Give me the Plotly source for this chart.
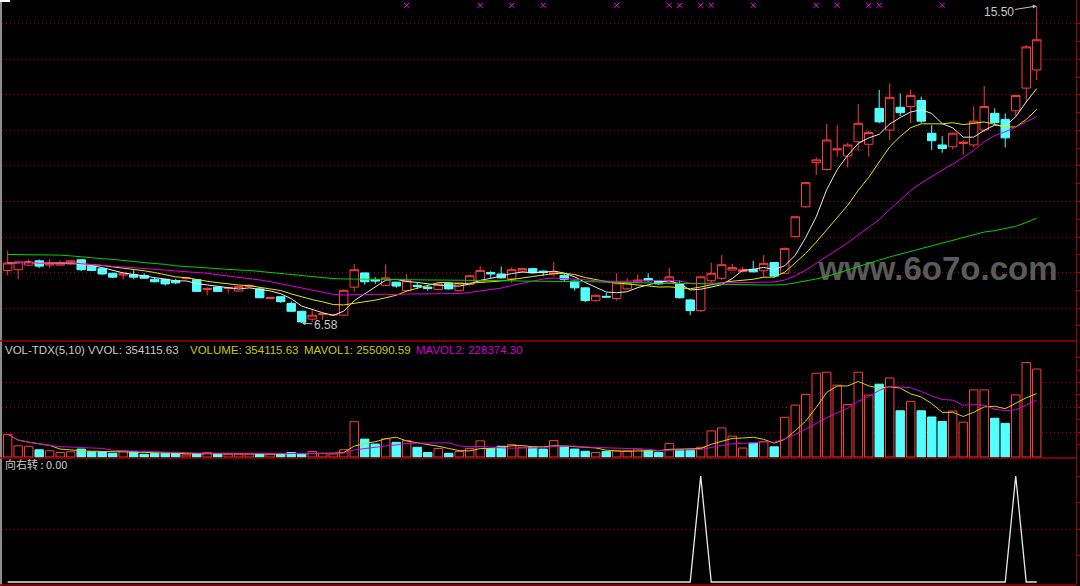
import pandas as pd
import plotly.graph_objects as go

W, H = 1080, 586

# ---------------- data ----------------
opens = [8.06, 8.08, 8.21, 8.33, 8.21, 8.21, 8.24, 8.36, 8.18, 8.11,
         7.98, 7.93, 7.94, 7.92, 7.81, 7.81, 7.77, 7.83, 7.80, 7.52,
         7.59, 7.55, 7.48, 7.61, 7.54, 7.27, 7.32, 7.13, 6.91, 6.69,
         6.82, 6.80, 6.80, 7.59, 7.99, 7.80, 7.64, 7.73, 7.49, 7.64,
         7.59, 7.52, 7.70, 7.49, 7.66, 7.74, 8.00, 7.96, 7.82, 8.04,
         8.11, 8.04, 7.96, 7.92, 7.76, 7.57, 7.21, 7.33, 7.27, 7.54,
         7.74, 7.83, 7.76, 7.71, 7.68, 7.23, 6.93, 7.77, 7.84, 8.07,
         8.03, 8.09, 8.05, 8.28, 7.98, 9.01, 9.85, 11.09, 10.90, 11.45,
         11.28, 11.68, 11.61, 12.62, 12.01, 12.65, 12.67, 12.84, 11.92, 11.59,
         11.54, 11.63, 11.59, 12.01, 12.48, 12.31, 12.55, 13.19, 13.70]
highs = [8.62, 8.32, 8.37, 8.37, 8.37, 8.34, 8.36, 8.38, 8.20, 8.13,
         8.00, 8.00, 8.07, 7.98, 7.85, 7.83, 7.82, 7.87, 7.81, 7.59,
         7.60, 7.59, 7.62, 7.66, 7.59, 7.31, 7.33, 7.19, 6.93, 6.95,
         6.86, 6.84, 7.53, 8.24, 8.00, 7.87, 8.22, 7.74, 7.96, 7.71,
         7.62, 7.70, 7.72, 7.73, 7.93, 8.19, 8.04, 8.17, 8.15, 8.13,
         8.13, 8.06, 8.30, 7.96, 7.77, 7.58, 7.38, 7.43, 7.98, 7.85,
         7.94, 7.98, 7.79, 8.13, 7.78, 7.25, 7.90, 8.28, 8.49, 8.24,
         8.16, 8.33, 8.49, 8.30, 8.70, 9.59, 10.55, 11.24, 12.18, 12.15,
         11.65, 12.74, 11.99, 13.14, 13.32, 13.04, 13.15, 12.95, 12.15, 11.84,
         11.94, 11.73, 12.67, 13.25, 12.62, 12.48, 13.00, 14.40, 15.50]
lows = [7.92, 7.81, 8.19, 8.13, 8.13, 8.19, 8.22, 8.04, 8.04, 7.93,
        7.85, 7.81, 7.81, 7.83, 7.72, 7.63, 7.67, 7.80, 7.46, 7.36,
        7.45, 7.43, 7.46, 7.59, 7.28, 7.25, 7.15, 6.90, 6.58, 6.61,
        6.67, 6.78, 6.78, 7.46, 7.66, 7.68, 7.62, 7.57, 7.48, 7.54,
        7.49, 7.50, 7.52, 7.47, 7.64, 7.72, 7.85, 7.83, 7.71, 8.02,
        7.97, 7.90, 7.90, 7.76, 7.49, 7.17, 7.18, 7.29, 7.21, 7.52,
        7.72, 7.74, 7.66, 7.69, 7.27, 6.80, 6.89, 7.71, 7.79, 8.05,
        8.02, 8.00, 7.88, 7.86, 7.96, 8.99, 9.83, 10.74, 10.87, 11.26,
        10.96, 11.43, 11.26, 12.20, 11.73, 12.40, 12.20, 12.20, 11.45, 11.37,
        11.47, 11.31, 11.52, 11.95, 12.15, 11.52, 12.40, 12.78, 13.42]
closes = [8.27, 8.30, 8.30, 8.18, 8.25, 8.27, 8.33, 8.08, 8.06, 7.96,
          7.87, 7.98, 7.87, 7.84, 7.74, 7.68, 7.71, 7.85, 7.47, 7.55,
          7.47, 7.58, 7.61, 7.64, 7.29, 7.30, 7.18, 6.91, 6.61, 6.80,
          6.84, 6.82, 7.50, 8.08, 7.74, 7.76, 7.85, 7.62, 7.77, 7.61,
          7.55, 7.68, 7.54, 7.71, 7.91, 8.06, 7.96, 7.85, 8.08, 8.11,
          7.99, 8.00, 8.02, 7.81, 7.57, 7.21, 7.36, 7.31, 7.71, 7.71,
          7.79, 7.77, 7.68, 7.88, 7.29, 6.93, 7.88, 7.98, 8.22, 8.14,
          8.09, 8.02, 8.26, 7.90, 8.68, 9.57, 10.53, 11.17, 11.73, 11.48,
          11.59, 12.20, 11.94, 12.24, 12.93, 12.50, 12.98, 12.26, 11.71, 11.49,
          11.92, 11.67, 12.26, 12.67, 12.22, 11.79, 12.98, 14.35, 14.55]
volumes = [91000, 45000, 43000, 29000, 25000, 18000, 21000, 32000, 21000, 21000,
           15000, 25000, 21000, 11000, 15000, 15000, 15000, 8000, 14000, 18000,
           12000, 11000, 11000, 12000, 12000, 11000, 14000, 18000, 11000, 22000,
           14000, 12000, 29000, 142000, 72000, 52000, 73000, 59000, 66000, 39000,
           18000, 34000, 15000, 22000, 34000, 65000, 34000, 43000, 50000, 39000,
           39000, 32000, 66000, 43000, 32000, 23000, 18000, 22000, 25000, 25000,
           32000, 25000, 18000, 54000, 29000, 29000, 39000, 105000, 117000, 84000,
           36000, 56000, 62000, 41000, 160000, 209000, 252000, 337000, 341000, 289000,
           211000, 341000, 249000, 293000, 318000, 186000, 224000, 186000, 161000, 143000,
           185000, 140290.05, 270000, 270000, 156000, 135337.32, 250000, 380000, 354115.63]
# long moving average (green)
ma60 = [8.51, 8.51, 8.51, 8.51, 8.50, 8.49, 8.47, 8.44, 8.40, 8.39,
        8.37, 8.35, 8.31, 8.28, 8.26, 8.23, 8.19, 8.17, 8.14, 8.11,
        8.09, 8.08, 8.07, 8.06, 8.03, 7.99, 7.97, 7.95, 7.91, 7.88,
        7.85, 7.83, 7.82, 7.81, 7.81, 7.81, 7.81, 7.80, 7.80, 7.80,
        7.79, 7.79, 7.79, 7.78, 7.78, 7.78, 7.77, 7.77, 7.77, 7.76,
        7.76, 7.76, 7.75, 7.75, 7.75, 7.74, 7.74, 7.73, 7.73, 7.72,
        7.71, 7.71, 7.70, 7.70, 7.69, 7.69, 7.68, 7.68, 7.67, 7.66,
        7.66, 7.65, 7.65, 7.65, 7.66, 7.71, 7.76, 7.82, 7.89, 7.97,
        8.07, 8.17, 8.27, 8.35, 8.44, 8.52, 8.59, 8.68, 8.75, 8.83,
        8.92, 9.00, 9.08, 9.14, 9.18, 9.23, 9.30, 9.41, 9.53]
turn_right = [0, 0, 0, 0, 0, 0, 0, 0, 0, 0,
              0, 0, 0, 0, 0, 0, 0, 0, 0, 0,
              0, 0, 0, 0, 0, 0, 0, 0, 0, 0,
              0, 0, 0, 0, 0, 0, 0, 0, 0, 0,
              0, 0, 0, 0, 0, 0, 0, 0, 0, 0,
              0, 0, 0, 0, 0, 0, 0, 0, 0, 0,
              0, 0, 0, 0, 0, 0, 1, 0, 0, 0,
              0, 0, 0, 0, 0, 0, 0, 0, 0, 0,
              0, 0, 0, 0, 0, 0, 0, 0, 0, 0,
              0, 0, 0, 0, 0, 0, 1, 0, 0]
signal_idx = [38, 45, 48, 51, 58, 63, 64, 66, 67, 71, 77, 79, 82, 83, 89]

# ---------------- derived ----------------
x = list(range(len(closes)))
cs = pd.Series(closes)
ma5 = cs.rolling(5, min_periods=1).mean()
ma10 = cs.rolling(10, min_periods=1).mean()
ma20 = cs.rolling(20, min_periods=1).mean()
vs = pd.Series(volumes)
mavol1 = vs.rolling(5, min_periods=1).mean()
mavol2 = vs.rolling(10, min_periods=1).mean()

UP = '#ff3c3c'
DN = '#54ffff'
GRID = '#a80000'
BORDER = '#a00000'


def py(p):
    return 1 - p / H


def px(p):
    return p / W


up_flags = [c >= o for o, c in zip(opens, closes)]
bar_fill = ['#000000' if u else DN for u in up_flags]
bar_line = [UP if u else DN for u in up_flags]

fig = go.Figure()

# watermark (under the lines)
fig.add_trace(go.Scatter(x=[88.6], y=[8.02], mode='text', text=['<b>www.6o7o.com</b>'],
                         textfont=dict(family='Liberation Sans, Arial', size=33, color='#5a5a5a'),
                         textposition='middle center', hoverinfo='skip'))

fig.add_trace(go.Candlestick(
    x=x, open=opens, high=highs, low=lows, close=closes,
    increasing=dict(line=dict(color=UP, width=1), fillcolor='#000000'),
    decreasing=dict(line=dict(color=DN, width=1), fillcolor=DN),
    whiskerwidth=0, hoverinfo='skip'))

for s, col in [(ma5, '#e8e8e8'), (ma10, '#e6e600'), (ma20, '#e000e0')]:
    fig.add_trace(go.Scatter(x=x, y=s, mode='lines', line=dict(color=col, width=1),
                             hoverinfo='skip'))
fig.add_trace(go.Scatter(x=x, y=ma60, mode='lines', line=dict(color='#00d000', width=1),
                         hoverinfo='skip'))

fig.add_trace(go.Scatter(x=signal_idx, y=[15.52] * len(signal_idx), mode='markers',
                         marker=dict(symbol='x-thin', size=5,
                                     line=dict(color='#ff00ff', width=1)),
                         hoverinfo='skip'))

# volume panel
fig.add_trace(go.Bar(x=x, y=volumes, yaxis='y2', width=0.8,
                     marker=dict(color=bar_fill, line=dict(color=bar_line, width=1)),
                     hoverinfo='skip'))
fig.add_trace(go.Scatter(x=x, y=mavol1, yaxis='y2', mode='lines',
                         line=dict(color='#d8d800', width=1), hoverinfo='skip'))
fig.add_trace(go.Scatter(x=x, y=mavol2, yaxis='y2', mode='lines',
                         line=dict(color='#d800d8', width=1), hoverinfo='skip'))

# indicator panel
fig.add_trace(go.Scatter(x=x, y=turn_right, yaxis='y3', mode='lines',
                         line=dict(color='#e8e8e8', width=1.3), hoverinfo='skip'))

tick_common = dict(side='right', anchor='x', showticklabels=False, zeroline=False,
                   ticks='outside', ticklen=4, tickcolor=BORDER,
                   showline=True, linecolor=BORDER, linewidth=1,
                   gridcolor=GRID, griddash='1px,3px', gridwidth=1, fixedrange=True)

fig.update_layout(
    width=W, height=H, margin=dict(l=0, r=0, t=0, b=0),
    paper_bgcolor='#000000', plot_bgcolor='#000000',
    showlegend=False, hovermode=False, boxgap=0.2, boxgroupgap=0, bargap=0.2,
    xaxis=dict(domain=[px(2), px(1078)], range=[-0.542, 101.74], visible=False,
               rangeslider=dict(visible=False), fixedrange=True),
    yaxis=dict(domain=[py(341), 1], range=[6.074, 15.669],
               tickmode='array', tickvals=list(range(7, 16)), showgrid=True,
               minor=dict(tickmode='array', tickvals=[6.5 + k for k in range(9)],
                          ticks='outside', ticklen=3, tickcolor=BORDER, showgrid=False),
               **tick_common),
    yaxis2=dict(domain=[py(458), py(341)], range=[-4024, 466784],
                tickmode='array', tickvals=[100000, 200000, 300000], showgrid=True,
                minor=dict(tickmode='array', tickvals=[50000, 150000, 250000, 350000, 400000],
                           ticks='outside', ticklen=3, tickcolor=BORDER, showgrid=False),
                **tick_common),
    yaxis3=dict(domain=[py(585), py(458)], range=[-0.0283, 1.1698],
                tickmode='array', tickvals=[0.5], showgrid=True,
                minor=dict(tickmode='array', tickvals=[0.25, 0.75, 1.0],
                           ticks='outside', ticklen=3, tickcolor=BORDER, showgrid=False),
                **tick_common),
)

# panel borders
shapes = [
    dict(type='line', xref='paper', yref='paper', x0=px(1), x1=px(1), y0=py(0), y1=py(585),
         line=dict(color='#8c8c8c', width=2)),
]
for yy in (341, 458, 585):
    shapes.append(dict(type='line', xref='paper', yref='paper', x0=0, x1=px(1078),
                       y0=py(yy), y1=py(yy), line=dict(color=BORDER, width=1.5)))
shapes.append(dict(type='rect', xref='paper', yref='paper', x0=0, x1=px(10), y0=py(2), y1=1,
                   line=dict(width=0), fillcolor='#ffffff'))
fig.update_layout(shapes=shapes)

# labels
hi_i = max(range(len(highs)), key=lambda i: highs[i])
lo_i = min(range(len(lows)), key=lambda i: lows[i])
ann = [
    dict(x=hi_i, y=highs[hi_i], xref='x', yref='y', text=f"{highs[hi_i]:.2f}",
         showarrow=True, ax=-38, ay=6, arrowhead=2, arrowsize=0.8, arrowwidth=1,
         arrowcolor='#c0c0c0', standoff=0,
         font=dict(family='Liberation Sans, Arial', size=12, color='#c8c8c8')),
    dict(x=lo_i, y=lows[lo_i], xref='x', yref='y', text=f"{lows[lo_i]:.2f}",
         showarrow=True, ax=24, ay=2, arrowhead=2, arrowsize=0.8, arrowwidth=1,
         arrowcolor='#c0c0c0', standoff=0,
         font=dict(family='Liberation Sans, Arial', size=12, color='#c8c8c8')),
]
vol_labels = [
    (3, f"VOL-TDX(5,10) VVOL: {volumes[-1]:.2f}", '#c8c8c8'),
    (188, f"VOLUME: {volumes[-1]:.2f}", '#c8c800'),
    (303, f"MAVOL1: {mavol1.iloc[-1]:.2f}", '#c8c800'),
    (415, f"MAVOL2: {mavol2.iloc[-1]:.2f}", '#d000d0'),
]
for xx, t, c in vol_labels:
    ann.append(dict(x=px(xx), y=py(350), xref='paper', yref='paper', text=t,
                    showarrow=False, xanchor='left', yanchor='middle',
                    font=dict(family='Liberation Sans, Arial', size=11.5, color=c)))
ann.append(dict(x=px(3), y=py(464), xref='paper', yref='paper',
                text=f"向右转 : {turn_right[-1]:.2f}", showarrow=False,
                xanchor='left', yanchor='middle',
                font=dict(family='Noto Sans CJK SC', size=11, color='#c8c8c8')))
fig.update_layout(annotations=ann)

fig.write_html("out.html",
               config={'displayModeBar': False, 'staticPlot': True},
               post_script="document.body.style.margin='0px';"
                           "document.body.style.overflow='hidden';"
                           "document.body.style.background='#000';")
